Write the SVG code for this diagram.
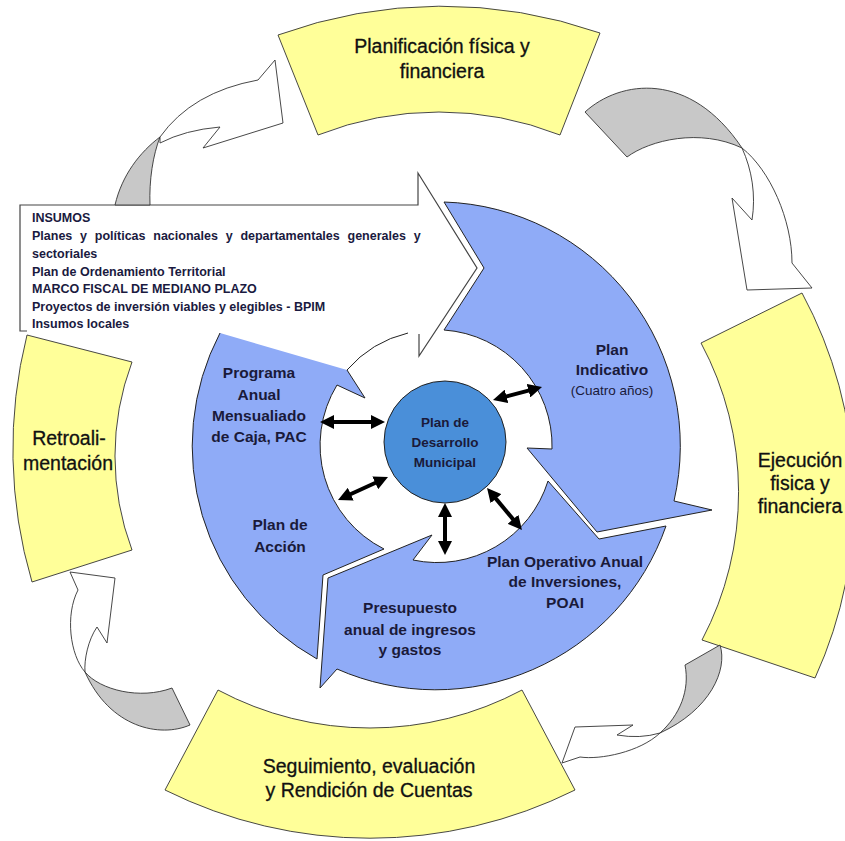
<svg xmlns="http://www.w3.org/2000/svg" width="845" height="841" viewBox="0 0 845 841">
<style>
.yel{fill:#ffff99;stroke:#333;stroke-width:0.9}
.blue{fill:#8fabf7;stroke:none}
.bl{fill:none;stroke:#222;stroke-width:1}
.cw{fill:#fff;stroke:#333;stroke-width:0.9}
.cg{fill:#c8c8c8;stroke:#333;stroke-width:0.9}
.yt{font-family:"Liberation Sans",Arial,sans-serif;font-size:19.5px;fill:#111;stroke:#111;stroke-width:0.3;text-anchor:middle}
.bt{font-family:"Liberation Sans",Arial,sans-serif;font-size:15.5px;font-weight:bold;fill:#1a1a3a;text-anchor:middle}
.ct{font-family:"Liberation Sans",Arial,sans-serif;font-size:13.5px;font-weight:bold;fill:#1a1a3a;text-anchor:middle}
.it{font-family:"Liberation Sans",Arial,sans-serif;font-size:12.5px;font-weight:bold;fill:#1a1a40}
.da{stroke:#000;stroke-width:4;marker-start:url(#ah);marker-end:url(#ah)}
</style>
<defs>
<marker id="ah" viewBox="0 0 10 10" refX="2" refY="5" markerWidth="14" markerHeight="14" markerUnits="userSpaceOnUse" orient="auto-start-reverse">
<path d="M0,0 L10,5 L0,10 Z" fill="#000"/>
</marker>
</defs>
<rect width="845" height="841" fill="#fff"/>

<g id="planificacion">
<path class="yel" d="M278,35 A480,480 0 0 1 600,33 L560,135 A330,330 0 0 0 318,135 Z"/>
<text class="yt" x="442" y="53">Planificación física y</text>
<text class="yt" x="442" y="78">financiera</text>
</g>
<g id="ejecucion">
<path class="yel" d="M701,343 L802,293 A432,432 0 0 1 815,678 L702,640 A316,316 0 0 0 701,343 Z"/>
<text class="yt" x="800" y="467">Ejecución</text>
<text class="yt" x="800" y="490">fisica y</text>
<text class="yt" x="800" y="513">financiera</text>
</g>
<g id="retroalimentacion">
<path class="yel" d="M27,335 L132,362 A268,268 0 0 0 132,550 L32,582 A470,470 0 0 1 27,335 Z"/>
<text class="yt" x="69" y="445">Retroali-</text>
<text class="yt" x="68" y="470">mentación</text>
</g>
<g id="seguimiento">
<path class="yel" d="M218,690 A323,323 0 0 0 522,690 L575,790 A460,460 0 0 1 165,790 Z"/>
<text class="yt" x="369" y="773">Seguimiento, evaluación</text>
<text class="yt" x="369" y="797">y Rendición de Cuentas</text>
</g>

<g id="insumos">
<path d="M20,205 L418,205 L418,173 L477,268 L419,356 L419,333 L20,333 Z" fill="#fff"/>
<path d="M27,331 L20,331 L20,205 L418,205 L418,173 L477,268 L419,356 L419,334" fill="none" stroke="#444" stroke-width="1.2"/>
<text class="it" x="32" y="222">INSUMOS</text>
<text class="it" x="32" y="240" word-spacing="4.3">Planes y políticas nacionales y departamentales generales y</text>
<text class="it" x="32" y="258">sectoriales</text>
<text class="it" x="32" y="275.5">Plan de Ordenamiento Territorial</text>
<text class="it" x="32" y="293">MARCO FISCAL DE MEDIANO PLAZO</text>
<text class="it" x="32" y="310.5">Proyectos de inversión viables y elegibles - BPIM</text>
<text class="it" x="32" y="328">Insumos locales</text>
</g>

<g id="plan-indicativo">
<path class="blue" d="M444,202 A244,244 0 0 1 674,501 L712,510 L597,532 L527,448 L552,449 A116,116 0 0 0 444,330 L484,268 Z"/>
<path class="bl" d="M444,202 A244,244 0 0 1 674,501 L712,510 L597,532 L527,448 L552,449 A116,116 0 0 0 444,330 L484,268 Z"/>
<text class="bt" x="612" y="355">Plan</text>
<text class="bt" x="612" y="375">Indicativo</text>
<text class="ct" x="612" y="395" style="font-weight:normal">(Cuatro años)</text>
</g>
<g id="poai-presupuesto">
<path class="blue" d="M548,481 L599,539 L666,526 A244,244 0 0 1 337,669 L320,688 L328,578 L432,535 L413,560 A116,116 0 0 0 548,481 Z"/>
<path class="bl" d="M548,481 L599,539 L666,526 A244,244 0 0 1 337,669 L320,688 L328,578 L432,535 L413,560 A116,116 0 0 0 548,481 Z"/>
<text class="bt" x="565" y="567">Plan Operativo Anual</text>
<text class="bt" x="565" y="587">de Inversiones,</text>
<text class="bt" x="565" y="608">POAI</text>
<text class="bt" x="410" y="613">Presupuesto</text>
<text class="bt" x="410" y="635">anual de ingresos</text>
<text class="bt" x="410" y="655">y gastos</text>
</g>
<g id="pac-plan-accion">
<path class="blue" d="M384,549 L323,575 L317,659 A244,244 0 0 1 220,333 L347,370 L365,398 L337,385 A116,116 0 0 0 384,549 Z"/>
<path class="bl" d="M347,370 L365,398 L337,385 A116,116 0 0 0 384,549 L323,575 L317,659 A244,244 0 0 1 220,333"/>
<path class="bl" d="M347,370 A116.5,116.5 0 0 1 408,333"/>
<text class="bt" x="259" y="378">Programa</text>
<text class="bt" x="259" y="400">Anual</text>
<text class="bt" x="259" y="421">Mensualiado</text>
<text class="bt" x="259" y="442">de Caja, PAC</text>
<text class="bt" x="280" y="530">Plan de</text>
<text class="bt" x="280" y="552">Acción</text>
</g>

<g id="plan-desarrollo">
<circle cx="445" cy="442" r="61" fill="#4a8fd9" stroke="#222" stroke-width="1"/>
<text class="ct" x="445" y="427">Plan de</text>
<text class="ct" x="445" y="447">Desarrollo</text>
<text class="ct" x="445" y="467">Municipal</text>
</g>

<g id="connectors">
<g id="arrow-retro-planif">
<path class="cg" d="M115,205 C122,175 140,152 160,137 C153,155 149,180 150,205 Z"/>
<path class="cw" d="M160,137 Q192,92 258,80 L275,60 L283,123 L203,148 L220,127 Q185,130 160,143 Z"/>
</g>
<g id="arrow-planif-ejec">
<path class="cg" d="M585,112 C620,80 690,70 742,148 C700,128 650,140 627,157 Z"/>
<path class="cw" d="M742,148 C770,170 792,220 792,263 L812,288 L747,290 L732,198 L752,220 C756,195 752,170 742,148 Z"/>
</g>
<g id="arrow-ejec-seguim">
<path class="cg" d="M685,665 L720,645 C728,670 710,710 660,733 C680,715 690,690 685,665 Z"/>
<path class="cw" d="M660,733 Q640,739 617,735 L633,725 L575,727 L562,763 L580,757 C600,760 640,752 660,733 Z"/>
</g>
<g id="arrow-seguim-retro">
<path class="cg" d="M172,688 L190,725 C160,738 110,728 85,672 C100,690 140,700 172,688 Z"/>
<path class="cw" d="M85,672 C70,655 65,615 78,590 L70,572 L115,578 L107,643 L97,627 C88,640 84,660 85,672 Z"/>
</g>
<g id="links">
<line class="da" x1="331.2" y1="422" x2="373.8" y2="422"/>
<line class="da" x1="503.8" y1="397.1" x2="531.2" y2="389.9"/>
<line class="da" x1="348.2" y1="495.3" x2="377.8" y2="481.7"/>
<line class="da" x1="445" y1="514.2" x2="445" y2="543.8"/>
<line class="da" x1="494.2" y1="496.6" x2="514.8" y2="521.4"/>
</g>
</g>
</svg>
